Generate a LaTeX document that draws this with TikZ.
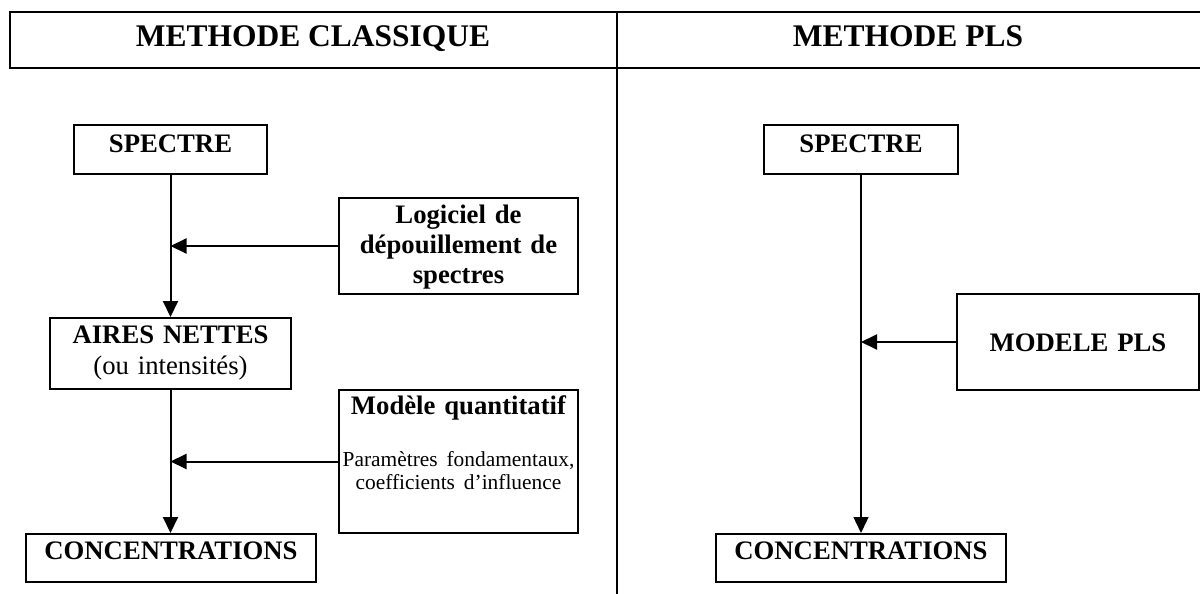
\documentclass[tikz,border=0pt]{standalone}
\usepackage{fontspec}
\setmainfont{Liberation Serif}
\usetikzlibrary{arrows.meta}
\tikzset{
  rule/.style={line width=2pt},
  box/.style={draw, line width=2pt, inner sep=0pt, anchor=north west, align=center,
    font=\bfseries\fontsize{26.7}{31}\selectfont},
  flow/.style={line width=2pt, -{Triangle[length=16pt,width=15pt]}},
  thinflow/.style={line width=1.4pt, -{Triangle[length=16pt,width=15pt]}},
  head/.style={anchor=base, font=\bfseries\fontsize{31.5}{36}\selectfont},
}
\begin{document}
\begin{tikzpicture}[x=1pt,y=-1pt]
\useasboundingbox (0,0) rectangle (1200,594);

% header band and column divider
\draw[rule] (1203,12) -- (10,12) -- (10,68) -- (1203,68);
\draw[rule] (617,12) -- (617,597);
\node[head] (hc) at (313,47) {METHODE CLASSIQUE};
\node[head] (hp) at (908,47) {METHODE PLS};

% classical method
\node[box, text width=193pt, text height=27pt, text depth=22pt] (s1) at (73,124) {SPECTRE};
\node[box, text width=239pt, text height=25pt, text depth=71pt,
      font=\bfseries\fontsize{26.7}{30}\selectfont] (lg) at (338,197)
      {Logiciel de\\dépouillement de\\spectres};
\node[box, text width=241pt, text height=25pt, text depth=46pt] (an) at (49,317)
      {AIRES NETTES\\{\mdseries (ou intensités)}};
\node[box, text width=239pt, text height=24pt, text depth=119pt] (mq) at (338,389)
      {Modèle quantitatif\\[29pt]{\mdseries\fontsize{21.4}{23}\selectfont Paramètres fondamentaux,\\coefficients d’influence\par}};
\node[box, text width=290pt, text height=25pt, text depth=23pt] (c1) at (25,533) {CONCENTRATIONS};

\draw[flow] (s1.south) -- (an.north);
\draw[flow] (lg.west) -- (lg.west -| s1.south);
\draw[flow] (an.south) -- (an.south |- c1.north);
\draw[flow] (mq.west) -- (mq.west -| an.south);

% PLS method
\node[box, text width=194pt, text height=27pt, text depth=22pt] (s2) at (763,124) {SPECTRE};
\node[box, text width=242pt, text height=57pt, text depth=39pt] (mp) at (956,293) {MODELE PLS};
\node[box, text width=290pt, text height=25pt, text depth=23pt] (c2) at (715,533) {CONCENTRATIONS};

\draw[thinflow] (s2.south) -- (c2.north);
\draw[flow] (mp.west) -- (mp.west -| s2.south);
\end{tikzpicture}
\end{document}
